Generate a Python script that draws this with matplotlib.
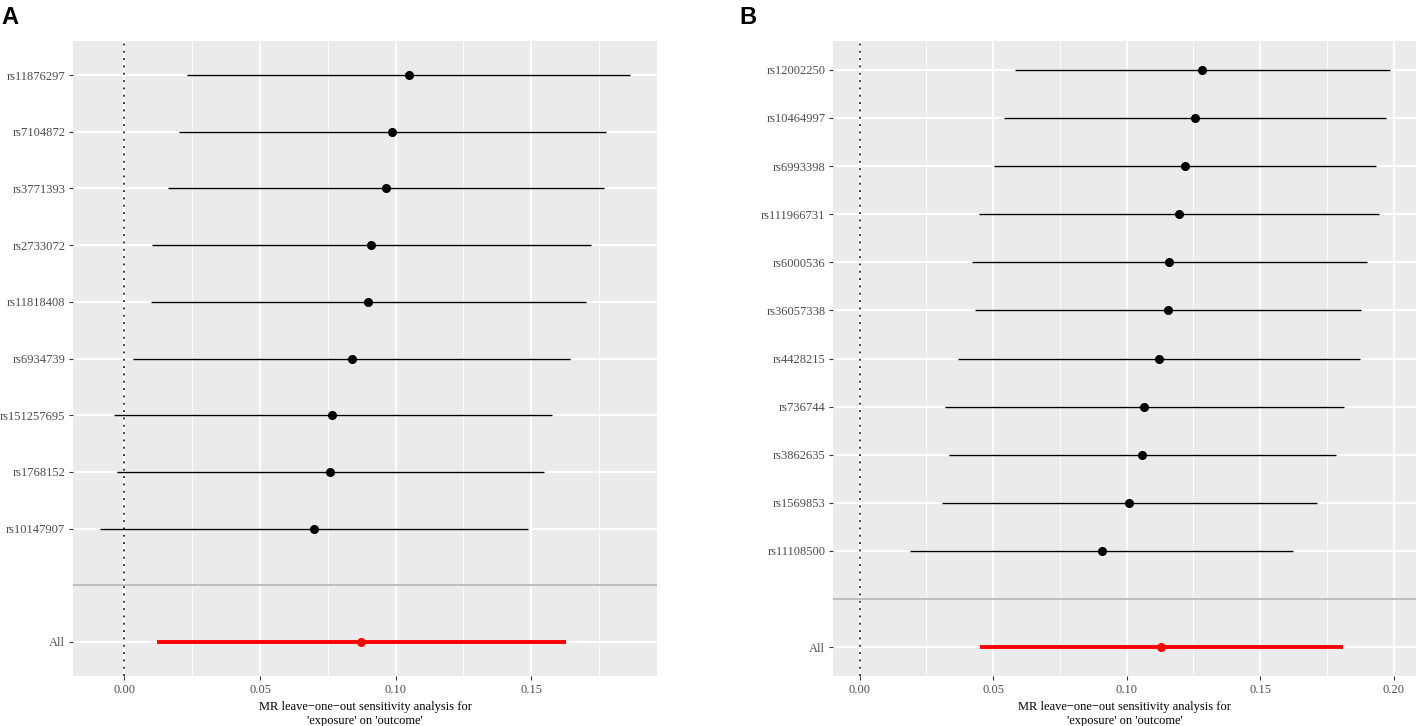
import matplotlib
matplotlib.use("Agg")
import matplotlib.pyplot as plt
from matplotlib.ticker import MultipleLocator

plt.rcParams['font.family'] = ['Liberation Serif', 'DejaVu Serif']

# panel A - leave-one-out estimates (top to bottom)
snps_a = ["rs11876297", "rs7104872", "rs3771393", "rs2733072", "rs11818408",
          "rs6934739", "rs151257695", "rs1768152", "rs10147907"]
b_a = [0.1048, 0.0987, 0.0964, 0.0910, 0.0899, 0.0838, 0.0767, 0.0759, 0.0698]
lo_a = [0.0231, 0.0200, 0.0160, 0.0101, 0.0096, 0.0031, -0.0040, -0.0028, -0.0092]
hi_a = [0.1866, 0.1776, 0.1769, 0.1720, 0.1702, 0.1642, 0.1575, 0.1548, 0.1489]
all_a = [0.0874, 0.0119, 0.1628]  # b, lo, hi

# panel B
snps_b = ["rs12002250", "rs10464997", "rs6993398", "rs111966731", "rs6000536",
          "rs36057338", "rs4428215", "rs736744", "rs3862635", "rs1569853",
          "rs11108500"]
b_b = [0.1283, 0.1255, 0.1218, 0.1197, 0.1160, 0.1155, 0.1120, 0.1065,
       0.1058, 0.1011, 0.0908]
lo_b = [0.0582, 0.0543, 0.0502, 0.0449, 0.0423, 0.0431, 0.0368, 0.0320,
        0.0334, 0.0309, 0.0191]
hi_b = [0.1985, 0.1973, 0.1934, 0.1947, 0.1901, 0.1880, 0.1874, 0.1813,
        0.1785, 0.1714, 0.1622]
all_b = [0.1131, 0.0452, 0.1809]

xlabel = "MR leave\u2212one\u2212out sensitivity analysis for\n'exposure' on 'outcome'"

W, H = 1417, 726
fig = plt.figure(figsize=(W / 100, H / 100), dpi=100)


def loo_panel(rect, snps, b, lo, hi, allrow, xticks, tag, tagx):
    l, t, r, bt = rect
    ax = fig.add_axes([l / W, 1 - bt / H, (r - l) / W, (bt - t) / H])
    ax.set_facecolor("#EBEBEB")
    n = len(snps)
    ypos = [n + 2 - i for i in range(n)]

    ax.hlines(ypos, lo, hi, color="black", lw=1.0, zorder=3)
    ax.plot(b, ypos, "o", color="black", ms=5.5, zorder=4)
    ax.hlines(1, allrow[1], allrow[2], color="red", lw=2.8, zorder=3)
    ax.plot(allrow[0], 1, "o", color="red", ms=5.5, zorder=4)

    ax.axhline(2, color="#BEBEBE", lw=1.4, zorder=2)
    ax.axvline(0, color="black", lw=1.1, ls=(0, (1.2, 3.6)), zorder=2)

    vals = lo + hi + [allrow[1], allrow[2], 0.0]
    xmin, xmax = min(vals), max(vals)
    pad = (xmax - xmin) * 0.05
    ax.set_xlim(xmin - pad, xmax + pad)
    ax.set_ylim(0.4, n + 2.6)

    ax.set_xticks(xticks)
    ax.set_xticklabels(["%.2f" % v for v in xticks])
    ax.xaxis.set_minor_locator(MultipleLocator(0.025))
    ax.set_yticks([1] + ypos)
    ax.set_yticklabels(["All"] + snps)

    ax.grid(which="major", color="white", lw=1.3, zorder=0)
    ax.grid(which="minor", axis="x", color="white", lw=0.6, zorder=0)
    ax.set_axisbelow(True)
    for s in ax.spines.values():
        s.set_visible(False)
    ax.tick_params(which="major", length=3, width=0.8, color="#333333",
                   labelcolor="#4D4D4D", labelsize=9, pad=2.5)
    ax.tick_params(which="minor", length=0)
    ax.set_xlabel(xlabel, fontsize=9, labelpad=4, linespacing=1.15)

    fig.text(tagx / W, 1 - 6 / H, tag, fontsize=17, fontweight="bold",
             family="Liberation Sans", va="top", ha="left")
    return ax


loo_panel((73, 41, 657, 676), snps_a, b_a, lo_a, hi_a, all_a,
          [0.00, 0.05, 0.10, 0.15], "A", 1)
loo_panel((833, 41, 1416, 676), snps_b, b_b, lo_b, hi_b, all_b,
          [0.00, 0.05, 0.10, 0.15, 0.20], "B", 739)

fig.savefig("out.png", dpi=100)
